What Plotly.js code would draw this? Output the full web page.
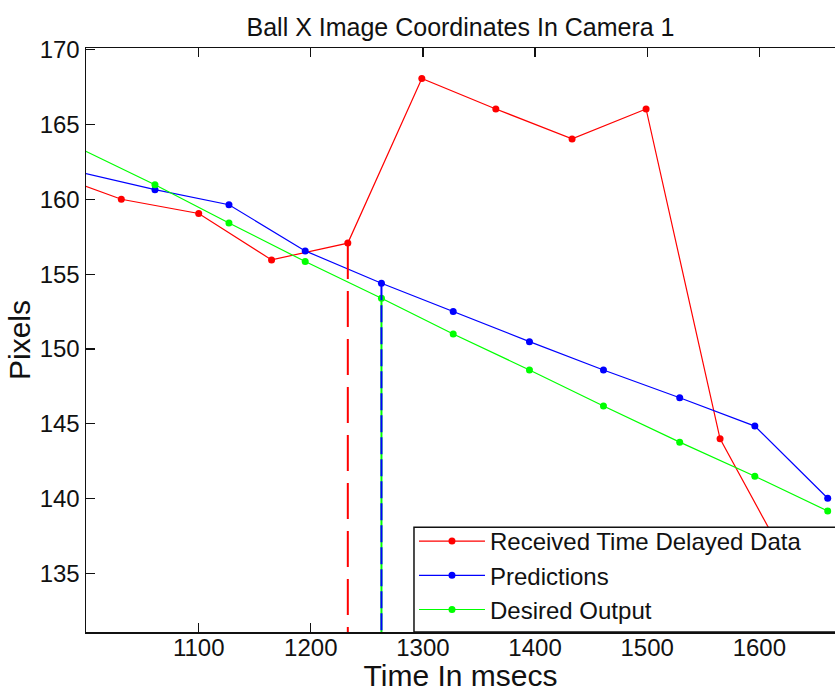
<!DOCTYPE html>
<html>
<head>
<meta charset="utf-8">
<script src="https://cdn.plot.ly/plotly-3.0.1.min.js"></script>
<style>
  html, body { margin: 0; padding: 0; overflow: hidden; background: #fff; }
  #chart { width: 900px; height: 692px; }
</style>
</head>
<body>
<div id="chart"></div>
<script>
// Ball x coordinate (pixels) in camera 1 over time (msecs)
const recvTime   = [965, 1031, 1100, 1165, 1233, 1299, 1365, 1433, 1499, 1565, 1632];
const recvPx     = [161.8, 160.0, 159.05, 155.95, 157.07, 168.06, 166.03, 164.03, 166.03, 144.0, 134.8];

const predTime   = [994, 1061, 1127, 1195, 1263, 1327, 1395, 1461, 1529, 1596, 1661];
const predPx     = [161.8, 160.64, 159.63, 156.55, 154.39, 152.5, 150.49, 148.6, 146.74, 144.85, 140.03];
const desiredPx  = [163.4, 160.97, 158.41, 155.84, 153.39, 151.0, 148.6, 146.19, 143.78, 141.5, 139.18];

const seriesNames = ['Received Time Delayed Data', 'Predictions', 'Desired Output'];
const xTicks = [1100, 1200, 1300, 1400, 1500, 1600];
const yTicks = [135, 140, 145, 150, 155, 160, 165, 170];
const xRange = [999.5, 1667.5];
const yRange = [131.1, 170.1];

// index of the "current" sample marked with a vertical drop line
const nowIdx = 4;

const RED = '#ff0000', BLUE = '#0000ff', GREEN = '#00ff00';
const FONT = 'Liberation Sans, Arial, sans-serif';

function series(x, y, name, color) {
  return {
    type: 'scatter', mode: 'lines+markers', x: x, y: y, name: name,
    line: { color: color, width: 1.2 },
    marker: { color: color, size: 7, symbol: 'circle' }
  };
}
function dropLine(x, y, color, dash) {
  return {
    type: 'scatter', mode: 'lines', showlegend: false,
    x: [x, x], y: [y, yRange[0]],
    line: { color: color, width: 2, dash: dash }
  };
}

const traces = [
  series(recvTime, recvPx, seriesNames[0], RED),
  series(predTime, predPx, seriesNames[1], BLUE),
  series(predTime, desiredPx, seriesNames[2], GREEN),
  dropLine(recvTime[nowIdx], recvPx[nowIdx], RED, '36px,12px'),
  dropLine(predTime[nowIdx], desiredPx[nowIdx], GREEN, 'solid'),
  dropLine(predTime[nowIdx], predPx[nowIdx], BLUE, '17px,5px')
];

const layout = {
  width: 900, height: 692,
  margin: { l: 86, r: 65, t: 48, b: 60 },
  paper_bgcolor: '#fff', plot_bgcolor: '#fff',
  font: { family: FONT, color: '#111', size: 24 },
  title: {
    text: 'Ball X Image Coordinates In Camera 1',
    font: { family: FONT, size: 25, color: '#111' },
    xref: 'paper', x: 0.5, xanchor: 'center',
    yref: 'container', y: 1 - 27 / 692, yanchor: 'middle'
  },
  xaxis: {
    range: xRange, tickvals: xTicks, ticktext: xTicks.map(String),
    ticks: 'inside', ticklen: 9, tickwidth: 1.2, tickcolor: '#111',
    showline: true, linecolor: '#111', linewidth: 1.5, mirror: 'ticks',
    showgrid: false, zeroline: false,
    tickfont: { family: FONT, size: 24, color: '#111' },
    ticklabelstandoff: -6,
    title: { text: 'Time In msecs', font: { family: FONT, size: 30, color: '#111' }, standoff: 13 }
  },
  yaxis: {
    range: yRange, tickvals: yTicks, ticktext: yTicks.map(String),
    ticks: 'inside', ticklen: 9, tickwidth: 1.2, tickcolor: '#111',
    showline: true, linecolor: '#111', linewidth: 1.5, mirror: false,
    showgrid: false, zeroline: false,
    tickfont: { family: FONT, size: 24, color: '#111' },
    ticklabelstandoff: 0,
    title: { text: 'Pixels', font: { family: FONT, size: 30, color: '#111' }, standoff: 0 }
  },
  showlegend: true,
  legend: {
    x: 0.4379, xanchor: 'left', y: 0, yanchor: 'bottom',
    bgcolor: 'rgba(0,0,0,0)', borderwidth: 0,
    font: { family: FONT, size: 24, color: '#111' },
    itemwidth: 66, tracegroupgap: 0
  },
  // legend frame, running past the right edge of the axes
  shapes: [{
    type: 'rect', xref: 'paper', yref: 'paper', layer: 'above',
    x0: 0.4379, x1: 1.2, y0: 0, y1: 0.1793,
    fillcolor: '#fff', line: { color: '#111', width: 1.5 }
  }]
};

Plotly.newPlot('chart', traces, layout, { staticPlot: true, displayModeBar: false });
</script>
</body>
</html>
